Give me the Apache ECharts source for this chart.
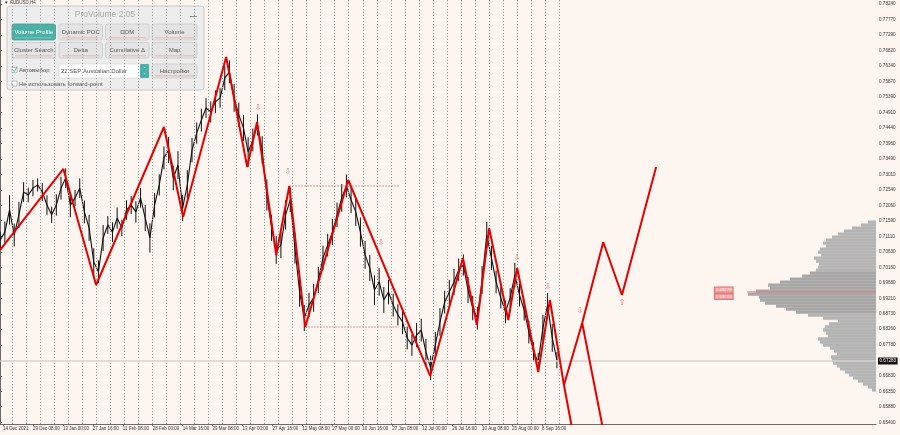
<!DOCTYPE html>
<html>
<head>
<meta charset="utf-8">
<script src="https://cdn.jsdelivr.net/npm/echarts@6/dist/echarts.min.js"></script>
<style>
  html, body { margin: 0; padding: 0; background: #fdf5ef; }
  #main { width: 900px; height: 435px; }
</style>
</head>
<body>
<div id="main"></div>
<script>
// x unit = H4 bar index, y = AUDUSD price
const dateLabels = ['14 Dec 2021', '29 Dec 08:00', '13 Jan 00:00', '27 Jan 16:00', '11 Feb 08:00', '28 Feb 00:00',
  '14 Mar 16:00', '29 Mar 08:00', '13 Apr 00:00', '27 Apr 16:00', '12 May 08:00', '27 May 00:00', '10 Jun 16:00',
  '27 Jun 08:00', '12 Jul 00:00', '26 Jul 16:00', '10 Aug 08:00', '25 Aug 00:00', '8 Sep 16:00'];
const labelBars = [6, 70, 134, 198, 262, 326, 390, 454, 518, 582, 646, 710, 774, 838, 902, 966, 1030, 1094, 1158];
const priceTicks = [0.78240, 0.77770, 0.77290, 0.76820, 0.76340, 0.75870, 0.75390, 0.74910, 0.74440, 0.73960,
  0.73490, 0.73010, 0.72540, 0.72060, 0.71590, 0.71110, 0.70630, 0.70160, 0.69680, 0.69210, 0.68730, 0.68260,
  0.67780, 0.66830, 0.66350, 0.65880, 0.65400];

// week separators: first one and spacing (30 H4 bars per week)
const firstWeekBar = 25;
const weekBars = 30;
const lastBar = 1197;

// closes sampled every 10 bars, and the high-low range of each 10-bar block
const sampleBars = 10;
const prices = [0.7100, 0.7124, 0.7192, 0.7115, 0.7177, 0.7247, 0.7238, 0.7259, 0.7269, 0.7247,
  0.7207, 0.7177, 0.7207, 0.7259, 0.7290, 0.7207, 0.7229, 0.7259, 0.7186, 0.7137,
  0.7032, 0.7002, 0.7106, 0.7146, 0.7124, 0.7167, 0.7137, 0.7192, 0.7207, 0.7186,
  0.7229, 0.7167, 0.7106, 0.7207, 0.7269, 0.7352, 0.7376, 0.7290, 0.7330, 0.7198,
  0.7269, 0.7376, 0.7428, 0.7468, 0.7505, 0.7493, 0.7524, 0.7536, 0.7597, 0.7616,
  0.7536, 0.7484, 0.7444, 0.7370, 0.7407, 0.7453, 0.7376, 0.7238, 0.7137, 0.7069,
  0.7084, 0.7177, 0.7223, 0.7075, 0.6940, 0.6860, 0.6900, 0.6922, 0.6977, 0.7045,
  0.7084, 0.7124, 0.7177, 0.7229, 0.7266, 0.7223, 0.7186, 0.7124, 0.7054, 0.7014,
  0.6946, 0.6971, 0.6916, 0.6940, 0.6900, 0.6870, 0.6848, 0.6799, 0.6777, 0.6808,
  0.6823, 0.6756, 0.6707, 0.6777, 0.6848, 0.6909, 0.6940, 0.6971, 0.7008, 0.7023,
  0.6946, 0.6891, 0.6860, 0.6977, 0.7115, 0.7045, 0.6971, 0.6922, 0.6879, 0.6922,
  0.6992, 0.6931, 0.6885, 0.6817, 0.6756, 0.6725, 0.6830, 0.6900, 0.6799, 0.6731];
const ranges = [0.0050, 0.0065, 0.0090, 0.0070, 0.0080, 0.0060, 0.0045, 0.0050, 0.0040, 0.0055,
  0.0060, 0.0050, 0.0065, 0.0070, 0.0060, 0.0075, 0.0050, 0.0060, 0.0070, 0.0080,
  0.0085, 0.0070, 0.0080, 0.0055, 0.0060, 0.0065, 0.0050, 0.0060, 0.0055, 0.0065,
  0.0060, 0.0080, 0.0090, 0.0075, 0.0065, 0.0070, 0.0080, 0.0075, 0.0085, 0.0080,
  0.0090, 0.0075, 0.0065, 0.0070, 0.0060, 0.0065, 0.0070, 0.0060, 0.0075, 0.0070,
  0.0085, 0.0075, 0.0080, 0.0090, 0.0070, 0.0065, 0.0085, 0.0095, 0.0080, 0.0085,
  0.0080, 0.0090, 0.0075, 0.0095, 0.0090, 0.0080, 0.0075, 0.0085, 0.0080, 0.0075,
  0.0070, 0.0080, 0.0075, 0.0085, 0.0070, 0.0080, 0.0085, 0.0090, 0.0085, 0.0080,
  0.0090, 0.0085, 0.0080, 0.0075, 0.0070, 0.0065, 0.0075, 0.0070, 0.0065, 0.0075,
  0.0070, 0.0080, 0.0075, 0.0080, 0.0085, 0.0070, 0.0075, 0.0080, 0.0070, 0.0065,
  0.0080, 0.0075, 0.0070, 0.0085, 0.0080, 0.0075, 0.0070, 0.0065, 0.0070, 0.0060,
  0.0075, 0.0070, 0.0065, 0.0070, 0.0060, 0.0055, 0.0080, 0.0075, 0.0085, 0.0050];
const currentPrice = 0.67283;

// zigzag
const zigBars = [0, 135, 205, 350, 391, 483, 528, 549, 590, 618, 652, 744, 919, 989, 1019, 1045, 1086, 1105, 1150, 1175, 1205, 1225];
const zigPrices = [0.70691, 0.73178, 0.69616, 0.74467, 0.71704, 0.76616, 0.73239, 0.74621, 0.70537, 0.72656, 0.68327,
  0.72840, 0.66823, 0.70445, 0.68388, 0.71366, 0.68542, 0.70138, 0.66946, 0.69156, 0.66546, 0.65011];
const projUpBars = [1205, 1244, 1289, 1329, 1402];
const projUpPrices = [0.66546, 0.68450, 0.70937, 0.69309, 0.73239];
const projDownBars = [1244, 1291];
const projDownPrices = [0.68450, 0.65011];
const levelHigh = { from: 618, to: 852, price: 0.72656 };
const levelLow = { from: 652, to: 852, price: 0.68327 };

// arrows
const arrowBars = [551, 615, 814, 1105, 1171, 1239, 1329];
const arrowPrices = [0.75050, 0.73086, 0.70906, 0.70445, 0.69555, 0.68818, 0.69064];
const arrowGlyphs = ['⇩', '⇩', '⇩', '⇩', '⇩', '⇩', '⇧'];

// volume profile (top level price, level height, volumes)
const profileTop = 0.71551;
const profileStep = 0.00092;
const profileVol = [8, 15, 24, 32, 38, 44, 50, 53, 50, 56, 58, 55, 62, 60, 57, 58, 60, 66, 74, 86,
  96, 108, 106, 120, 128, 117, 116, 111, 100, 90, 80, 68, 53, 38, 47, 51, 53, 50, 48, 58,
  56, 53, 46, 42, 39, 45, 44, 43, 39, 36, 31, 27, 23, 18, 13, 8, 4];
const valueArea = [0.6879, 0.6999];
const pocPrice = 0.69402;
const pocLabels = [['0.69279', 0.69463], ['0.69263', 0.69258]];

const FONT = 'Liberation Sans';
const chart = echarts.init(document.getElementById('main'));

const weekLines = [];
for (let b = firstWeekBar; b <= lastBar; b += weekBars) weekLines.push({ xAxis: b });

function button(x, y, w, h, text, active) {
  return [
    { type: 'rect', shape: { x, y, width: w, height: h, r: 2 },
      style: { fill: active ? '#4bb1a7' : '#e4e4e4', stroke: active ? '#3f9e95' : '#c9c9c9', lineWidth: 0.8 } },
    { type: 'text', x: x + w / 2, y: y + h / 2 + 0.5,
      style: { text, fill: active ? '#ffffff' : '#555', font: '6px ' + FONT,
        textAlign: 'center', textVerticalAlign: 'middle', align: 'center', verticalAlign: 'middle' } },
    { type: 'rect', shape: { x: x + 3, y: y + h - 2.5, width: w - 6, height: 0.8 },
      style: { fill: active ? '#7fd0c8' : '#e2a8a8' } }
  ];
}
const panel = [
  { type: 'rect', shape: { x: 7, y: 6, width: 197, height: 84, r: 3 },
    style: { fill: 'rgba(236,236,236,0.95)', stroke: '#c8c8c8', lineWidth: 1 } },
  { type: 'text', x: 105, y: 14.5, style: { text: 'ProVolume 2.05', fill: '#a8a8a8', font: '8.5px ' + FONT,
    textAlign: 'center', textVerticalAlign: 'middle', align: 'center', verticalAlign: 'middle' } },
  { type: 'rect', shape: { x: 190, y: 16, width: 7, height: 1 }, style: { fill: '#888' } },
  ...button(12, 24, 43.5, 16, 'Volume Profile', true),
  ...button(59, 24, 43.5, 16, 'Dynamic POC'),
  ...button(105.5, 24, 43.5, 16, 'DOM'),
  ...button(152, 24, 45, 16, 'Volume'),
  ...button(12, 42.5, 43.5, 15.5, 'Cluster Search'),
  ...button(59, 42.5, 43.5, 15.5, 'Delta'),
  ...button(105.5, 42.5, 43.5, 15.5, 'Cumulative Δ'),
  ...button(152, 42.5, 45, 15.5, 'Map'),
  { type: 'rect', shape: { x: 12, y: 67.5, width: 5, height: 5 }, style: { fill: '#fff', stroke: '#999', lineWidth: 0.6 } },
  { type: 'polyline', shape: { points: [[12.8, 69.8], [14.3, 71.6], [17.2, 66.5]] }, style: { stroke: '#4bb1a7', lineWidth: 0.9, fill: null } },
  { type: 'text', x: 19, y: 70.5, style: { text: 'Автовыбор', fill: '#555', font: '6px ' + FONT,
    textVerticalAlign: 'middle', verticalAlign: 'middle' } },
  { type: 'rect', shape: { x: 59, y: 64, width: 90, height: 14, r: 1 }, style: { fill: '#fff', stroke: '#d0d0d0', lineWidth: 0.6 } },
  { type: 'rect', shape: { x: 140, y: 64, width: 9, height: 14, r: 1 }, style: { fill: '#4bb1a7' } },
  { type: 'text', x: 144.5, y: 71, style: { text: '⌃\n⌄', fill: '#e8f6f4', font: '4px DejaVu Sans',
    textAlign: 'center', textVerticalAlign: 'middle', align: 'center', verticalAlign: 'middle' } },
  { type: 'text', x: 61, y: 71, style: { text: '22 SEP Australian Dollar', fill: '#555', font: '6px ' + FONT,
    textVerticalAlign: 'middle', verticalAlign: 'middle' } },
  ...button(152, 64, 45, 14, 'Настройки'),
  { type: 'rect', shape: { x: 12, y: 81, width: 5, height: 5 }, style: { fill: '#fff', stroke: '#999', lineWidth: 0.6 } },
  { type: 'text', x: 19, y: 84, style: { text: 'Не использовать forward-point', fill: '#555', font: '6px ' + FONT,
    textVerticalAlign: 'middle', verticalAlign: 'middle' } },
  { type: 'text', x: 4, y: 2.5, z: -1, style: { text: '▼ AUDUSD,H4', fill: '#333', font: '4.5px ' + FONT,
    textVerticalAlign: 'middle', verticalAlign: 'middle' } }
];

const option = {
  animation: false,
  backgroundColor: '#fdf5ef',
  grid: { left: 0, right: 24, top: 0, bottom: 11, containLabel: false },
  xAxis: [
    {
      type: 'value', min: 0, max: 1872,
      axisLine: { show: true, lineStyle: { color: '#6a6a6a', width: 1 } },
      axisTick: { show: true, length: 2, customValues: labelBars, lineStyle: { color: '#6a6a6a' } },
      axisLabel: {
        customValues: labelBars, align: 'left', margin: 2.5,
        fontSize: 4.5, fontFamily: FONT, color: '#333',
        formatter: v => dateLabels[labelBars.indexOf(v)] || ''
      },
      splitLine: { show: false }
    },
    { type: 'value', min: 0, max: 876, inverse: true, show: false }
  ],
  yAxis: {
    type: 'value', position: 'right', min: 0.65349, max: 0.78366,
    axisLine: { show: true, lineStyle: { color: '#6a6a6a', width: 1 } },
    axisTick: { show: true, length: 2, customValues: priceTicks, lineStyle: { color: '#6a6a6a' } },
    axisLabel: { customValues: priceTicks, margin: 3, fontSize: 4.6, fontFamily: FONT, color: '#333',
      formatter: v => v.toFixed(5) },
    splitLine: { show: false }
  },
  graphic: { elements: panel },
  series: [
    {
      type: 'custom', xAxisIndex: 1, yAxisIndex: 0, z: 1,
      data: profileVol.map((v, i) => [v, profileTop - i * profileStep]),
      renderItem(params, api) {
        const v = api.value(0), p = api.value(1);
        const a = api.coord([0, p + profileStep / 2]);
        const b = api.coord([v, p - profileStep / 2]);
        const inVA = p >= valueArea[0] && p <= valueArea[1];
        return { type: 'rect', shape: { x: b[0], y: a[1], width: a[0] - b[0], height: b[1] - a[1] + 0.3 },
          style: { fill: inVA ? '#a7a7a7' : '#b4b4b4' } };
      }
    },
    {
      type: 'line', xAxisIndex: 1, symbol: 'none', z: 3,
      data: [[0, pocPrice], [profileVol[24] + 1, pocPrice]],
      lineStyle: { color: '#e77a7a', width: 1 }
    },
    {
      type: 'scatter', xAxisIndex: 1, symbolSize: 0, z: 4,
      data: pocLabels.map(d => ({ value: [143, d[1]], name: d[0] })),
      label: { show: true, position: 'left', distance: 0, formatter: p => p.name,
        fontSize: 4.3, fontFamily: FONT, color: '#fff', backgroundColor: '#ee8b8b',
        borderColor: '#d85050', borderWidth: 0.6, padding: [0.8, 1.5] }
    },
    {
      // high-low range of each block
      type: 'custom', z: 2,
      data: prices.map((p, i) => [i * sampleBars, p, ranges[i]]),
      renderItem(params, api) {
        const b = api.value(0), p = api.value(1), r = api.value(2);
        const hi = api.coord([b, p + r * 0.5]);
        const lo = api.coord([b, p - r * 0.5]);
        return { type: 'line', shape: { x1: hi[0], y1: hi[1], x2: lo[0], y2: lo[1] },
          style: { stroke: '#111', lineWidth: 1 } };
      }
    },
    {
      name: 'price', type: 'line', symbol: 'none', z: 2,
      data: prices.map((p, i) => [i * sampleBars, p]),
      lineStyle: { color: '#111', width: 1.1 },
      markLine: {
        silent: true, symbol: 'none', precision: 5, label: { show: false },
        lineStyle: { color: '#9c9c9c', type: [1, 2], width: 1 },
        data: [
          ...weekLines,
          { yAxis: currentPrice,
            lineStyle: { color: '#d6d2ce', type: 'solid', width: 1.5 },
            label: { show: true, position: 'end', distance: 2, formatter: currentPrice.toFixed(5),
              fontSize: 4.6, fontFamily: FONT, color: '#fff', backgroundColor: '#111', padding: [1, 1.5] } }
        ]
      }
    },
    {
      type: 'line', symbol: 'none', z: 5,
      data: zigBars.map((b, i) => [b, zigPrices[i]]),
      lineStyle: { color: '#e60000', width: 2 }
    },
    {
      type: 'line', symbol: 'none', z: 5,
      data: projUpBars.map((b, i) => [b, projUpPrices[i]]),
      lineStyle: { color: '#e60000', width: 2 }
    },
    {
      type: 'line', symbol: 'none', z: 5,
      data: projDownBars.map((b, i) => [b, projDownPrices[i]]),
      lineStyle: { color: '#e60000', width: 2 }
    },
    ...[levelHigh, levelLow].map(l => ({
      type: 'line', symbol: 'none', z: 4,
      data: [[l.from, l.price], [l.to, l.price]],
      lineStyle: { color: '#e05050', width: 0.8, type: [1.5, 1.5] }
    })),
    {
      type: 'scatter', symbolSize: 0, z: 6,
      data: arrowBars.map((b, i) => ({ value: [b, arrowPrices[i]], name: arrowGlyphs[i] })),
      label: { show: true, position: 'inside', formatter: p => p.name,
        fontSize: 8.5, fontFamily: 'DejaVu Sans', color: '#e36363' }
    }
  ]
};
chart.setOption(option);
</script>
</body>
</html>
